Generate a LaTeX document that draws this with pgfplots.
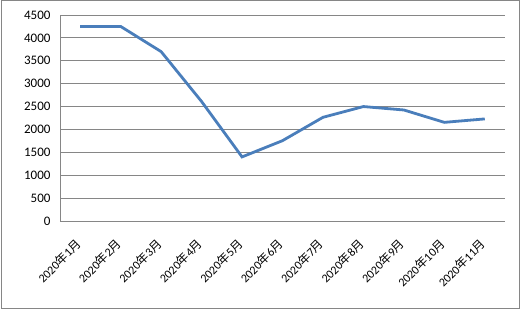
\documentclass[border=0pt]{standalone}
\usepackage{pgfplots}
\pgfplotsset{compat=1.18}
\usepackage{fontspec}
\setmainfont{Carlito}
\newfontfamily\cjk{Noto Sans CJK SC}
\definecolor{lineblue}{HTML}{4A7EBB}
\definecolor{gridgray}{HTML}{868686}
\newcommand{\m}[1]{2020{\cjk 年}#1{\cjk 月}}
\begin{document}
\begin{tikzpicture}
\useasboundingbox (0bp,0bp) rectangle (521bp,310bp);
\draw[gridgray, line width=1bp] (1bp,1.5bp) rectangle (519.5bp,309bp);
\begin{axis}[at={(60bp,89bp)}, anchor=south west, scale only axis,
  width=445bp, height=206bp,
  xmin=0.5, xmax=11.5, ymin=0, ymax=4500,
  ytick={0,500,...,4500}, xtick={1,...,11},
  xticklabels={\m{1},\m{2},\m{3},\m{4},\m{5},\m{6},\m{7},\m{8},\m{9},\m{10},\m{11}},
  axis x line*=bottom, axis y line*=left,
  axis line style={gridgray, line width=1bp},
  ymajorgrids, grid style={gridgray, line width=1bp},
  major tick length=0pt,
  scaled y ticks=false,
  /pgf/number format/1000 sep={},
  /pgf/number format/assume math mode=true,
  yticklabel style={font=\fontsize{13bp}{15bp}\selectfont, xshift=-6bp},
  xticklabel style={rotate=45, anchor=north east, font=\fontsize{12bp}{14bp}\selectfont, yshift=-4.5bp, xshift=-12.5bp},
  clip=false,
]
\addplot[lineblue, line width=2.8bp] coordinates {
(1,4250) (2,4250) (3,3700) (4,2610) (5,1400) (6,1755) (7,2265) (8,2500) (9,2425) (10,2155) (11,2230)};
\end{axis}
\end{tikzpicture}
\end{document}
